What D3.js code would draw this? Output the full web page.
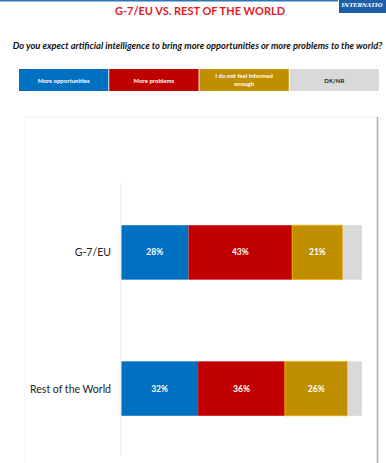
<!DOCTYPE html>
<html>
<head>
<meta charset="utf-8">
<script src="https://cdn.jsdelivr.net/npm/d3@7"></script>
<style>
  body { margin: 0; background: #fff; }
  svg { display: block; font-family: Lato, "Open Sans", sans-serif; }
</style>
</head>
<body>
<div id="chart"></div>
<script>
// data
var groups = ["G-7/EU", "Rest of the World"];
var answers = ["More opportunities", "More problems", "I do not feel informed enough", "DK/NR"];
var opportunities = [28, 32];
var problems = [43, 36];
var notInformed = [21, 26];
var dknr = [8, 6];
var colors = ["#0070c0", "#c00000", "#bf8f00", "#d9d9d9"];

var width = 386, height = 463;

var svg = d3.select("#chart").append("svg")
    .attr("width", width)
    .attr("height", height);

// top rule + logo
svg.append("rect").attr("x", 0).attr("y", 0).attr("width", 338).attr("height", 1.5).attr("fill", "#2e75b6");
svg.append("rect").attr("x", 339).attr("y", 0).attr("width", 47).attr("height", 13).attr("fill", "#1f5fa8");
svg.append("text")
    .attr("x", 362).attr("y", 7)
    .attr("text-anchor", "middle")
    .style("font-family", "'DejaVu Serif', serif")
    .style("font-style", "italic")
    .style("font-weight", "bold")
    .style("font-size", "5.5px")
    .style("fill", "#fff")
    .text("INTERNATIO");

// title
svg.append("text")
    .attr("x", 200).attr("y", 15)
    .attr("text-anchor", "middle")
    .style("font-size", "11px")
    .style("font-weight", "bold")
    .style("fill", "#e0201b")
    .text("G-7/EU VS. REST OF THE WORLD");

svg.append("text")
    .attr("x", 197.5).attr("y", 49)
    .attr("text-anchor", "middle")
    .style("font-size", "9.3px")
    .style("font-weight", "bold")
    .style("font-style", "italic")
    .style("fill", "#111")
    .text("Do you expect artificial intelligence to bring more opportunities or more problems to the world?");

// legend
var legendX = d3.scaleBand().domain(answers).range([19, 379]).paddingInner(0.01);
var leg = svg.append("g").selectAll("g")
    .data(answers)
    .enter().append("g")
    .attr("transform", d => `translate(${legendX(d)},69)`);

leg.append("rect")
    .attr("width", legendX.bandwidth())
    .attr("height", 22)
    .attr("fill", (d, i) => colors[i]);

leg.append("text")
    .attr("x", legendX.bandwidth() / 2)
    .attr("text-anchor", "middle")
    .style("font-size", "6px")
    .style("font-weight", "bold")
    .style("fill", (d, i) => i === 3 ? "#222" : "#fff")
    .each(function(d) {
        var t = d3.select(this);
        if (d === "I do not feel informed enough") {
            t.append("tspan").attr("x", legendX.bandwidth() / 2).attr("y", 9).text("I do not feel informed");
            t.append("tspan").attr("x", legendX.bandwidth() / 2).attr("y", 17).text("enough");
        } else {
            t.attr("y", 13.5).text(d);
        }
    });

// frame
svg.append("rect")
    .attr("x", 25).attr("y", 117)
    .attr("width", 352).attr("height", 350)
    .attr("fill", "none")
    .attr("stroke", "#f2f2f2")
    .attr("stroke-width", 1);
svg.append("line")
    .attr("x1", 377.5).attr("x2", 377.5)
    .attr("y1", 117).attr("y2", 463)
    .attr("stroke", "#b0b0b0")
    .attr("stroke-width", 1.5);

// bars
var x = d3.scaleLinear().domain([0, 100]).range([121, 362]);
var y = d3.scaleBand().domain(groups).range([183, 458]).paddingInner(0.6).paddingOuter(0.31);

var rows = groups.map((g, i) => ({ group: g, values: [opportunities[i], problems[i], notInformed[i], dknr[i]] }));
var stacked = d3.stack().keys(d3.range(answers.length)).value((d, k) => d.values[k])(rows);

var layer = svg.append("g").selectAll("g")
    .data(stacked)
    .enter().append("g")
    .attr("fill", (d, i) => colors[i]);

layer.selectAll("rect")
    .data(d => d.map(s => Object.assign(s, { key: d.key })))
    .enter().append("rect")
    .attr("x", d => x(d[0]))
    .attr("y", d => y(d.data.group))
    .attr("width", d => x(d[1]) - x(d[0]))
    .attr("height", y.bandwidth())
    .attr("stroke", d => d.key === 2 ? "#f0b400" : "none")
    .attr("stroke-width", 0.8);

layer.filter((d, i) => i < 3).selectAll("text")
    .data(d => d)
    .enter().append("text")
    .attr("x", d => (x(d[0]) + x(d[1])) / 2)
    .attr("y", d => y(d.data.group) + y.bandwidth() / 2 + 3)
    .attr("text-anchor", "middle")
    .style("font-size", "8.5px")
    .style("font-weight", "bold")
    .style("fill", "#fff")
    .text(d => (d[1] - d[0]) + "%");

// axis line + category labels
svg.append("line")
    .attr("x1", 121).attr("x2", 121)
    .attr("y1", 183).attr("y2", 456)
    .attr("stroke", "#e6e6e6")
    .attr("stroke-width", 1);

svg.append("g").selectAll("text")
    .data(groups)
    .enter().append("text")
    .attr("x", 111)
    .attr("y", d => y(d) + y.bandwidth() / 2 + 4)
    .attr("text-anchor", "end")
    .style("font-size", "10.5px")
    .style("fill", "#222")
    .text(d => d);
</script>
</body>
</html>
